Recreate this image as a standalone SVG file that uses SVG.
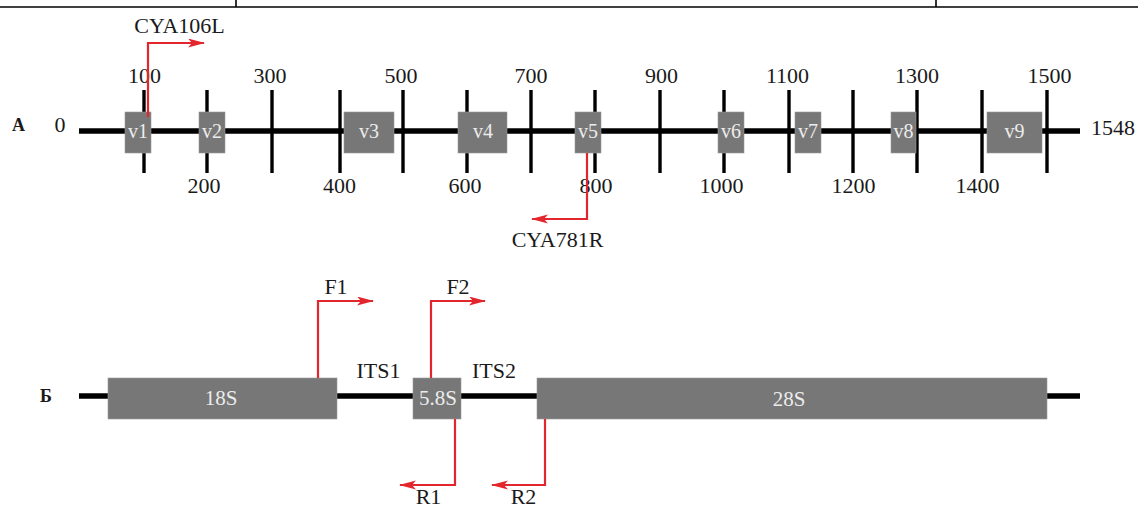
<svg xmlns="http://www.w3.org/2000/svg" width="1138" height="510" viewBox="0 0 1138 510">
<style>
text{font-family:"Liberation Serif","Times New Roman",serif;fill:#1a1a1a}
.lbl{font-size:22px;text-anchor:middle}
.pan{font-size:18px;font-weight:bold}
.box{fill:#777777;stroke:#9a9a9a;stroke-width:0.6}
.bt{font-size:20px;text-anchor:middle;fill:#ececec}
.bt2{font-size:21px;text-anchor:middle;fill:#ececec}
.axis{stroke:#000;stroke-width:5.5;fill:none}
.tick{stroke:#000;stroke-width:3.4}
.frame{stroke:#000;stroke-width:1.6;fill:none}
.pr{stroke:#e3262d;stroke-width:2.2;fill:none}
</style>
<defs>
<marker id="ah" markerUnits="userSpaceOnUse" markerWidth="18" markerHeight="10" refX="16" refY="4.5" orient="auto">
<path d="M0,0 L17,4.5 L0,9 L4,4.5 z" fill="#e3262d"/>
</marker>
</defs>

<g id="frame">
<line class="frame" x1="0" y1="7" x2="1138" y2="7"/>
<line class="frame" x1="236" y1="0" x2="236" y2="7"/>
<line class="frame" x1="936" y1="0" x2="936" y2="7"/>
</g>

<g id="panelA">
<text class="pan" x="12" y="131">A</text>
<line class="axis" x1="79" y1="131" x2="1080" y2="131"/>
<g id="ticks">
<line class="tick" x1="144" y1="90" x2="144" y2="173"/>
<line class="tick" x1="207" y1="90" x2="207" y2="173"/>
<line class="tick" x1="272" y1="90" x2="272" y2="173"/>
<line class="tick" x1="340" y1="90" x2="340" y2="173"/>
<line class="tick" x1="403" y1="90" x2="403" y2="173"/>
<line class="tick" x1="467" y1="90" x2="467" y2="173"/>
<line class="tick" x1="531" y1="90" x2="531" y2="173"/>
<line class="tick" x1="595" y1="90" x2="595" y2="173"/>
<line class="tick" x1="660" y1="90" x2="660" y2="173"/>
<line class="tick" x1="724" y1="90" x2="724" y2="173"/>
<line class="tick" x1="789" y1="90" x2="789" y2="173"/>
<line class="tick" x1="853" y1="90" x2="853" y2="173"/>
<line class="tick" x1="917" y1="90" x2="917" y2="173"/>
<line class="tick" x1="982" y1="90" x2="982" y2="173"/>
<line class="tick" x1="1047" y1="90" x2="1047" y2="173"/>
</g>
<g id="scale-labels">
<text class="lbl" x="60" y="132">0</text>
<text class="lbl" x="144.5" y="83">100</text>
<text class="lbl" x="204" y="193">200</text>
<text class="lbl" x="270" y="83">300</text>
<text class="lbl" x="339.5" y="193">400</text>
<text class="lbl" x="401" y="83">500</text>
<text class="lbl" x="465" y="193">600</text>
<text class="lbl" x="531" y="83">700</text>
<text class="lbl" x="596" y="193">800</text>
<text class="lbl" x="661.5" y="83">900</text>
<text class="lbl" x="721.5" y="193">1000</text>
<text class="lbl" x="787.5" y="83">1100</text>
<text class="lbl" x="853.5" y="193">1200</text>
<text class="lbl" x="917" y="83">1300</text>
<text class="lbl" x="977.5" y="193">1400</text>
<text class="lbl" x="1049.5" y="83">1500</text>
<text class="lbl" x="1091" y="135" style="text-anchor:start">1548</text>
</g>
<g id="v1"><rect class="box" x="125" y="112" width="26" height="41"/><text class="bt" x="138" y="138">v1</text></g>
<g id="v2"><rect class="box" x="199" y="112" width="26" height="41"/><text class="bt" x="212" y="138">v2</text></g>
<g id="v3"><rect class="box" x="344" y="112" width="50" height="41"/><text class="bt" x="369" y="138">v3</text></g>
<g id="v4"><rect class="box" x="458" y="112" width="49" height="41"/><text class="bt" x="483" y="138">v4</text></g>
<g id="v5"><rect class="box" x="575" y="112" width="26" height="41"/><text class="bt" x="588" y="138">v5</text></g>
<g id="v6"><rect class="box" x="718" y="112" width="26" height="41"/><text class="bt" x="731" y="138">v6</text></g>
<g id="v7"><rect class="box" x="795" y="112" width="26" height="41"/><text class="bt" x="808" y="138">v7</text></g>
<g id="v8"><rect class="box" x="891" y="112" width="25" height="41"/><text class="bt" x="903.5" y="138">v8</text></g>
<g id="v9"><rect class="box" x="987" y="112" width="55" height="41"/><text class="bt" x="1014.5" y="138">v9</text></g>
<text class="lbl" x="179.5" y="33">CYA106L</text>
<text class="lbl" x="557.5" y="247">CYA781R</text>
</g>

<g id="panelB">
<text class="pan" x="40" y="402">Б</text>
<line class="axis" x1="79" y1="396" x2="1080" y2="396"/>
<g id="s18"><rect class="box" x="108" y="378" width="229" height="41"/><text class="bt2" x="221" y="405">18S</text></g>
<g id="s58"><rect class="box" x="413" y="378" width="48" height="41"/><text class="bt2" x="438" y="405">5.8S</text></g>
<g id="s28"><rect class="box" x="537" y="378" width="510" height="41"/><text class="bt2" x="789" y="406">28S</text></g>
<text class="lbl" x="378.5" y="378">ITS1</text>
<text class="lbl" x="494" y="378">ITS2</text>
<text class="lbl" x="336" y="294">F1</text>
<text class="lbl" x="458" y="294">F2</text>
<text class="lbl" x="428.5" y="504">R1</text>
<text class="lbl" x="523.5" y="504">R2</text>
</g>

<g id="connectors">
<path class="pr" d="M148,117 V43 H204" marker-end="url(#ah)"/>
<path class="pr" d="M587,153 V219 H532" marker-end="url(#ah)"/>
<path class="pr" d="M318,378 V301 H373" marker-end="url(#ah)"/>
<path class="pr" d="M431,378 V301 H485" marker-end="url(#ah)"/>
<path class="pr" d="M455,419 V485 H400" marker-end="url(#ah)"/>
<path class="pr" d="M545,419 V485 H492" marker-end="url(#ah)"/>
</g>
</svg>
